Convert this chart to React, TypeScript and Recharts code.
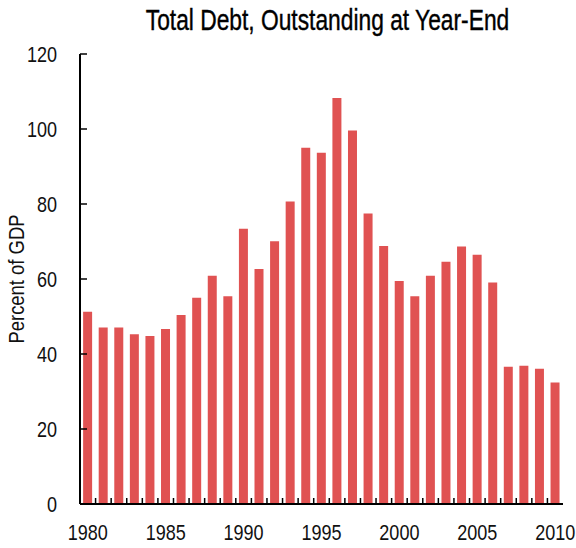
import React from "react";
import { BarChart, Bar, XAxis, YAxis } from "recharts";

const years = [
  "1980", "1981", "1982", "1983", "1984", "1985", "1986", "1987", "1988", "1989",
  "1990", "1991", "1992", "1993", "1994", "1995", "1996", "1997", "1998", "1999",
  "2000", "2001", "2002", "2003", "2004", "2005", "2006", "2007", "2008", "2009",
  "2010",
];

const totalDebt = [
  51.3, 47.1, 47.1, 45.3, 44.8, 46.7, 50.4, 55.0, 60.9, 55.4,
  73.4, 62.7, 70.1, 80.7, 95.0, 93.7, 108.3, 99.6, 77.5, 68.8,
  59.5, 55.4, 60.9, 64.6, 68.7, 66.5, 59.1, 36.6, 36.9, 36.1,
  32.4,
];

const yTicks = [0, 20, 40, 60, 80, 100, 120];
const labelYears = ["1980", "1985", "1990", "1995", "2000", "2005", "2010"];

const data = years.map((year, i) => ({ year, debt: totalDebt[i] }));

// no narrow font installed, so Liberation Sans squeezed horizontally
const FONT = "'Liberation Sans', Arial, sans-serif";
const NARROW = 0.82;
const W = 576;
const H = 548;
const MARGIN = { top: 54, right: 13, left: 0, bottom: 0 };
const Y_AXIS_W = 80;
const X_AXIS_H = 44;
const PLOT_W = W - MARGIN.left - MARGIN.right - Y_AXIS_W;
const BAND = PLOT_W / years.length;

// year ticks sit between the bars, labels every 5 years
const XTick = ({ x, y, payload, index }: any) => {
  const half = BAND / 2;
  return (
    <g>
      {index < years.length - 1 && (
        <line x1={x + half} x2={x + half} y1={y} y2={y - 6} stroke="#000" strokeWidth={1.5} />
      )}
      {labelYears.includes(payload.value) && (
        <text
          transform={`translate(${x},${y + 36}) scale(${NARROW},1)`}
          textAnchor="middle"
          fontFamily={FONT}
          fontSize={22}
          fill="#111"
        >
          {payload.value}
        </text>
      )}
    </g>
  );
};

const YTick = ({ x, y, payload }: any) => (
  <g>
    <line x1={x} x2={x + 7} y1={y} y2={y} stroke="#000" strokeWidth={1.5} />
    <text
      transform={`translate(${x - 23},${y + 7.5}) scale(${NARROW},1)`}
      textAnchor="end"
      fontFamily={FONT}
      fontSize={22}
      fill="#111"
    >
      {payload.value}
    </text>
  </g>
);

const YLabel = ({ viewBox }: any) => {
  const cx = viewBox.x + 24;
  const cy = viewBox.y + viewBox.height / 2;
  return (
    <text
      transform={`translate(${cx},${cy}) rotate(-90) scale(${NARROW},1)`}
      textAnchor="middle"
      fontFamily={FONT}
      fontSize={22.5}
      fill="#111"
    >
      Percent of GDP
    </text>
  );
};

export default function App() {
  return (
    <div style={{ position: "absolute", left: 0, top: 0, width: W, height: H, background: "#fff" }}>
      <svg width={W} height={40} style={{ position: "absolute", left: 0, top: 0 }}>
        <text
          transform={`translate(327.5,30) scale(0.76,1)`}
          textAnchor="middle"
          fontFamily={FONT}
          fontSize={30}
          fill="#000"
          stroke="#000"
          strokeWidth={0.4}
        >
          Total Debt, Outstanding at Year-End
        </text>
      </svg>
      <BarChart width={W} height={H} data={data} margin={MARGIN} barCategoryGap="20%">
        <XAxis
          dataKey="year"
          interval={0}
          height={X_AXIS_H}
          tickSize={0}
          tickMargin={0}
          tickLine={false}
          tick={<XTick />}
          axisLine={{ stroke: "#000", strokeWidth: 2 }}
        />
        <XAxis xAxisId="top" orientation="top" dataKey="year" height={0} tick={false} tickLine={false} axisLine={{ stroke: "#000", strokeWidth: 2 }} />
        <YAxis
          domain={[0, 120]}
          ticks={yTicks}
          width={Y_AXIS_W}
          tickSize={0}
          tickMargin={0}
          tickLine={false}
          tick={<YTick />}
          axisLine={{ stroke: "#000", strokeWidth: 2 }}
          label={<YLabel />}
        />
        <YAxis yAxisId="right" orientation="right" width={0} tick={false} tickLine={false} axisLine={{ stroke: "#000", strokeWidth: 2 }} />
        <Bar dataKey="debt" fill="#E05252" isAnimationActive={false} />
      </BarChart>
    </div>
  );
}
